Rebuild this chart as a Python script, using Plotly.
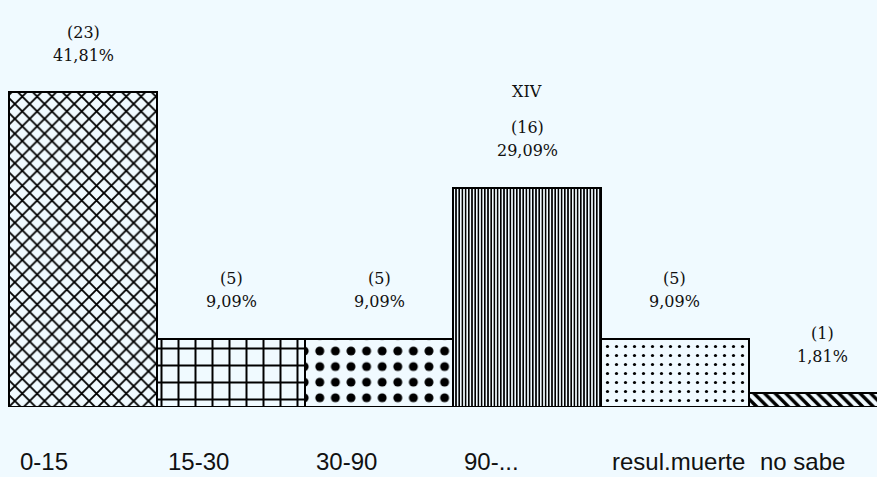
import plotly.graph_objects as go

categories = ["0-15", "15-30", "30-90", "90-...", "resul.muerte", "no sabe"]
counts = [23, 5, 5, 16, 5, 1]
percents = ["41,81%", "9,09%", "9,09%", "29,09%", "9,09%", "1,81%"]
figure_label = "XIV"

BG = "#f0faff"
shapes = ["x", "+", ".", "|", ".", "\\"]
sizes = [10.5, 17, 15.6, 3.2, 9, 7.5]
solidities = [0.32, 0.22, 0.26, 0.5, 0.1, 0.45]

xs = list(range(len(categories)))

fig = go.Figure()
fig.add_trace(go.Bar(
    x=xs, y=counts, width=1,
    marker=dict(
        color=BG,
        line=dict(color="black", width=2),
        pattern=dict(shape=shapes, size=sizes, solidity=solidities,
                     fgcolor="black", bgcolor=BG, fillmode="replace"),
    ),
    hoverinfo="skip",
))

serif = dict(family="DejaVu Serif", size=16, color="#111")
for x, c, p in zip(xs, counts, percents):
    fig.add_annotation(x=x, y=c, text=p, showarrow=False, yanchor="middle",
                       yshift=37, font=serif)
    fig.add_annotation(x=x, y=c, text=f"({c})", showarrow=False, yanchor="middle",
                       yshift=60, font=serif)

fig.add_annotation(x=3, y=0.774, yref="paper", text=figure_label, showarrow=False,
                   yanchor="middle", font=serif)

sans = dict(family="Liberation Sans", size=24, color="#111")
for x, cat in zip(xs, categories):
    fig.add_annotation(x=x - 0.5, y=-0.135, yref="paper", text=cat, showarrow=False,
                       xanchor="left", yanchor="middle", xshift=9, font=sans)

fig.update_layout(
    width=877, height=477,
    margin=dict(l=0, r=0, t=0, b=70),
    paper_bgcolor=BG, plot_bgcolor=BG,
    bargap=0, showlegend=False,
    xaxis=dict(range=[-0.561, 5.365], visible=False, fixedrange=True),
    yaxis=dict(range=[0, 29.72], visible=False, fixedrange=True),
)

fig.write_html(
    "out.html",
    config={"displayModeBar": False},
    post_script="document.body.style.margin='0';document.body.style.background='%s';" % BG,
)
